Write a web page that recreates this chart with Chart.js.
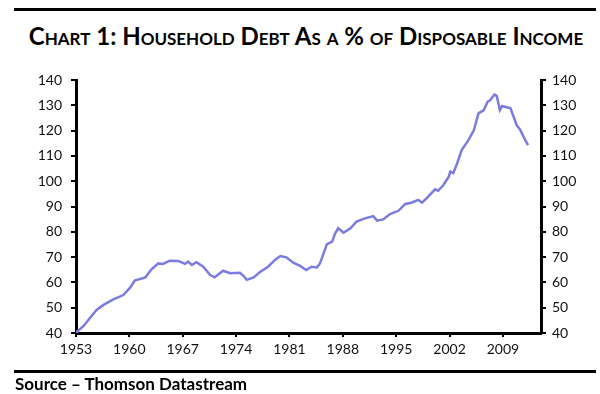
<!DOCTYPE html>
<html>
<head>
<meta charset="utf-8">
<script src="https://cdn.jsdelivr.net/npm/chart.js@4/dist/chart.umd.min.js"></script>
<style>
  body { margin: 0; background: #fff; }
  #hoja { position: relative; width: 600px; height: 394px; overflow: hidden; }
  .regla { position: absolute; left: 14px; width: 582px; height: 3px; background: #000; }
  #titulo {
    position: absolute; top: 21px; left: 6px; width: 600px; text-align: center;
    font: 700 24px Lato, sans-serif; font-variant: small-caps; color: #000;
  }
  #fuente {
    position: absolute; left: 15px; top: 373px;
    font: 700 17px Lato, sans-serif; color: #000;
  }
  canvas { position: absolute; left: 0; top: 0; }
</style>
</head>
<body>
<div id="hoja">
  <div class="regla" style="top:8px"></div>
  <div id="titulo">Chart 1: Household Debt As a % of Disposable Income</div>
  <canvas id="grafica" width="600" height="394"></canvas>
  <div class="regla" style="top:370px"></div>
  <div id="fuente">Source – Thomson Datastream</div>
</div>
<script>
// Años (decimales) y deuda de los hogares, % del ingreso disponible
const anios = [
  1953.0, 1953.5, 1954.0, 1954.8, 1955.7, 1956.6, 1957.9, 1959.2, 1960.1, 1960.7,
  1962.1, 1962.9, 1963.8, 1964.4, 1965.3, 1966.4, 1967.3, 1967.7, 1968.2, 1968.8,
  1969.7, 1970.6, 1971.2, 1972.3, 1973.2, 1974.5, 1975.0, 1975.4, 1976.3, 1977.1,
  1978.2, 1979.1, 1979.8, 1980.6, 1981.5, 1982.4, 1983.2, 1983.9, 1984.6, 1985.0,
  1985.4, 1985.9, 1986.6, 1987.0, 1987.4, 1988.1, 1989.0, 1989.8, 1990.9, 1992.0,
  1992.5, 1993.3, 1994.2, 1995.3, 1996.2, 1997.0, 1997.9, 1998.4, 1999.2, 2000.1,
  2000.5, 2001.2, 2001.9, 2002.1, 2002.5, 2003.0, 2003.6, 2004.5, 2005.2, 2005.8,
  2006.5, 2007.0, 2007.3, 2007.9, 2008.2, 2008.6, 2008.9, 2009.5, 2010.0, 2010.4,
  2010.8, 2011.3, 2011.8, 2012.3
];
const deuda = [
  40.0, 41.5, 42.8, 45.8, 49.1, 51.1, 53.3, 55.0, 57.9, 60.7,
  62.0, 65.2, 67.5, 67.3, 68.6, 68.5, 67.3, 68.2, 66.9, 68.0,
  66.2, 62.9, 62.0, 64.6, 63.6, 63.8, 62.5, 61.0, 62.0, 64.0,
  66.2, 68.9, 70.4, 69.9, 67.8, 66.5, 64.9, 66.2, 65.9, 67.5,
  70.8, 75.0, 76.1, 79.4, 81.4, 79.6, 81.4, 84.0, 85.3, 86.2,
  84.4, 84.9, 87.0, 88.3, 91.0, 91.5, 92.6, 91.5, 93.9, 96.8,
  96.2, 98.5, 101.8, 103.8, 103.2, 107.1, 112.3, 116.3, 120.2, 126.8,
  128.1, 131.4, 131.9, 134.3, 133.7, 128.1, 129.7, 129.2, 128.8, 125.5,
  122.2, 120.2, 117.0, 114.3
];
const ticksX = [1953, 1960, 1967, 1974, 1981, 1988, 1995, 2002, 2009];

const fuenteTicks = { family: "Lato, sans-serif", size: 14 };

function ejeY(posicion, ancho, relleno) {
  return {
    position: posicion,
    min: 40,
    max: 140,
    border: { color: "#000", width: 3 },
    grid: { drawOnChartArea: false, color: "#000", lineWidth: 2, tickLength: 5 },
    ticks: { stepSize: 10, color: "#111", font: fuenteTicks, padding: relleno },
    afterFit: (eje) => { eje.width = ancho; }
  };
}

new Chart(document.getElementById("grafica"), {
  type: "line",
  data: {
    datasets: [{
      data: anios.map((a, i) => ({ x: a, y: deuda[i] })),
      borderColor: "#7b7be0",
      borderWidth: 2.5,
      pointRadius: 0,
      tension: 0
    }]
  },
  options: {
    responsive: false,
    animation: false,
    layout: { padding: { top: 80, left: 0, right: 0, bottom: 0 } },
    plugins: { legend: { display: false }, tooltip: { enabled: false } },
    scales: {
      x: {
        type: "linear",
        min: 1953,
        max: 2014,
        border: { color: "#000", width: 3 },
        grid: { drawOnChartArea: false, color: "#000", lineWidth: 2, tickLength: 4 },
        ticks: {
          color: "#111", font: fuenteTicks, padding: 4, maxRotation: 0, autoSkip: false,
          callback: (v) => String(v)
        },
        afterBuildTicks: (eje) => { eje.ticks = ticksX.map((v) => ({ value: v })); },
        afterFit: (eje) => { eje.height = 61; }
      },
      y: ejeY("left", 76, 9),
      y2: ejeY("right", 59, 6)
    }
  }
});
</script>
</body>
</html>
